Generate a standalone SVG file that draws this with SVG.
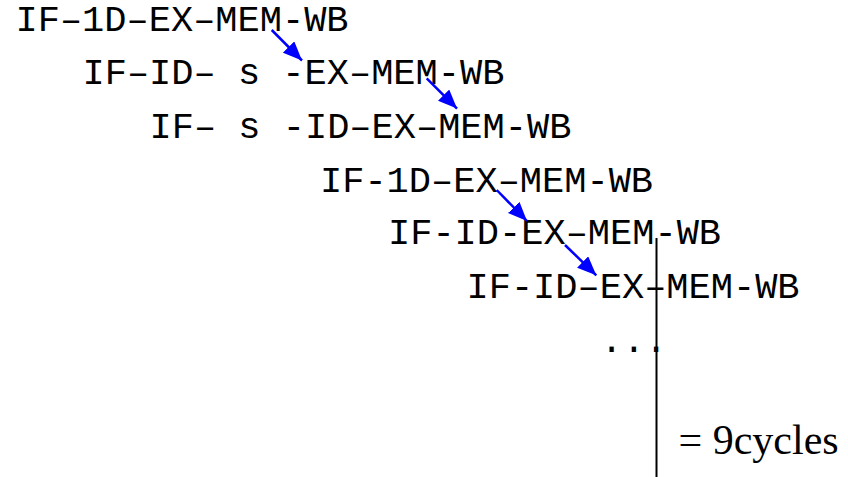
<svg xmlns="http://www.w3.org/2000/svg" width="848" height="477" viewBox="0 0 848 477">
<style>
.p{font-family:"Liberation Mono","Courier New",monospace;font-size:37px;fill:#000}
.t{font-family:"Liberation Serif","Times New Roman",serif;font-size:42px;fill:#000}
.a{stroke:#0000FF;stroke-width:2.5;fill:none;marker-end:url(#ah)}
</style>
<defs>
<marker id="ah" markerUnits="userSpaceOnUse" markerWidth="20" markerHeight="16" refX="19" refY="8" orient="auto">
<path d="M0,0 L19,8 L0,16 Z" fill="#0000FF"/>
</marker>
</defs>
<rect width="848" height="477" fill="#fff"/>
<g id="instr1"><text class="p" x="15.5" y="31">IF–1D–EX–MEM-WB</text></g>
<g id="instr2"><text class="p" x="82.5" y="84" xml:space="preserve">IF–ID– s -EX–MEM-WB</text></g>
<g id="instr3"><text class="p" x="149.5" y="137.5" xml:space="preserve">IF– s -ID–EX–MEM-WB</text></g>
<g id="instr4"><text class="p" x="320" y="191.5">IF-1D–EX–MEM-WB</text></g>
<g id="instr5"><text class="p" x="388" y="244">IF-ID-EX–MEM-WB</text></g>
<g id="instr6"><text class="p" x="466.5" y="298">IF-ID–EX–MEM-WB</text></g>
<g id="dots"><text class="p" x="600.5" y="352">...</text></g>
<g id="total"><text class="t" x="678.5" y="453.5">= 9cycles</text></g>
<g id="connectors">
<line class="a" x1="271.7" y1="30" x2="302" y2="60.5"/>
<line class="a" x1="426.7" y1="78.3" x2="457" y2="108.6"/>
<line class="a" x1="496.7" y1="190" x2="527" y2="221"/>
<line class="a" x1="565" y1="245" x2="596.3" y2="275.3"/>
<line x1="656.5" y1="238" x2="656.5" y2="477" stroke="#000" stroke-width="2"/>
</g>
</svg>
